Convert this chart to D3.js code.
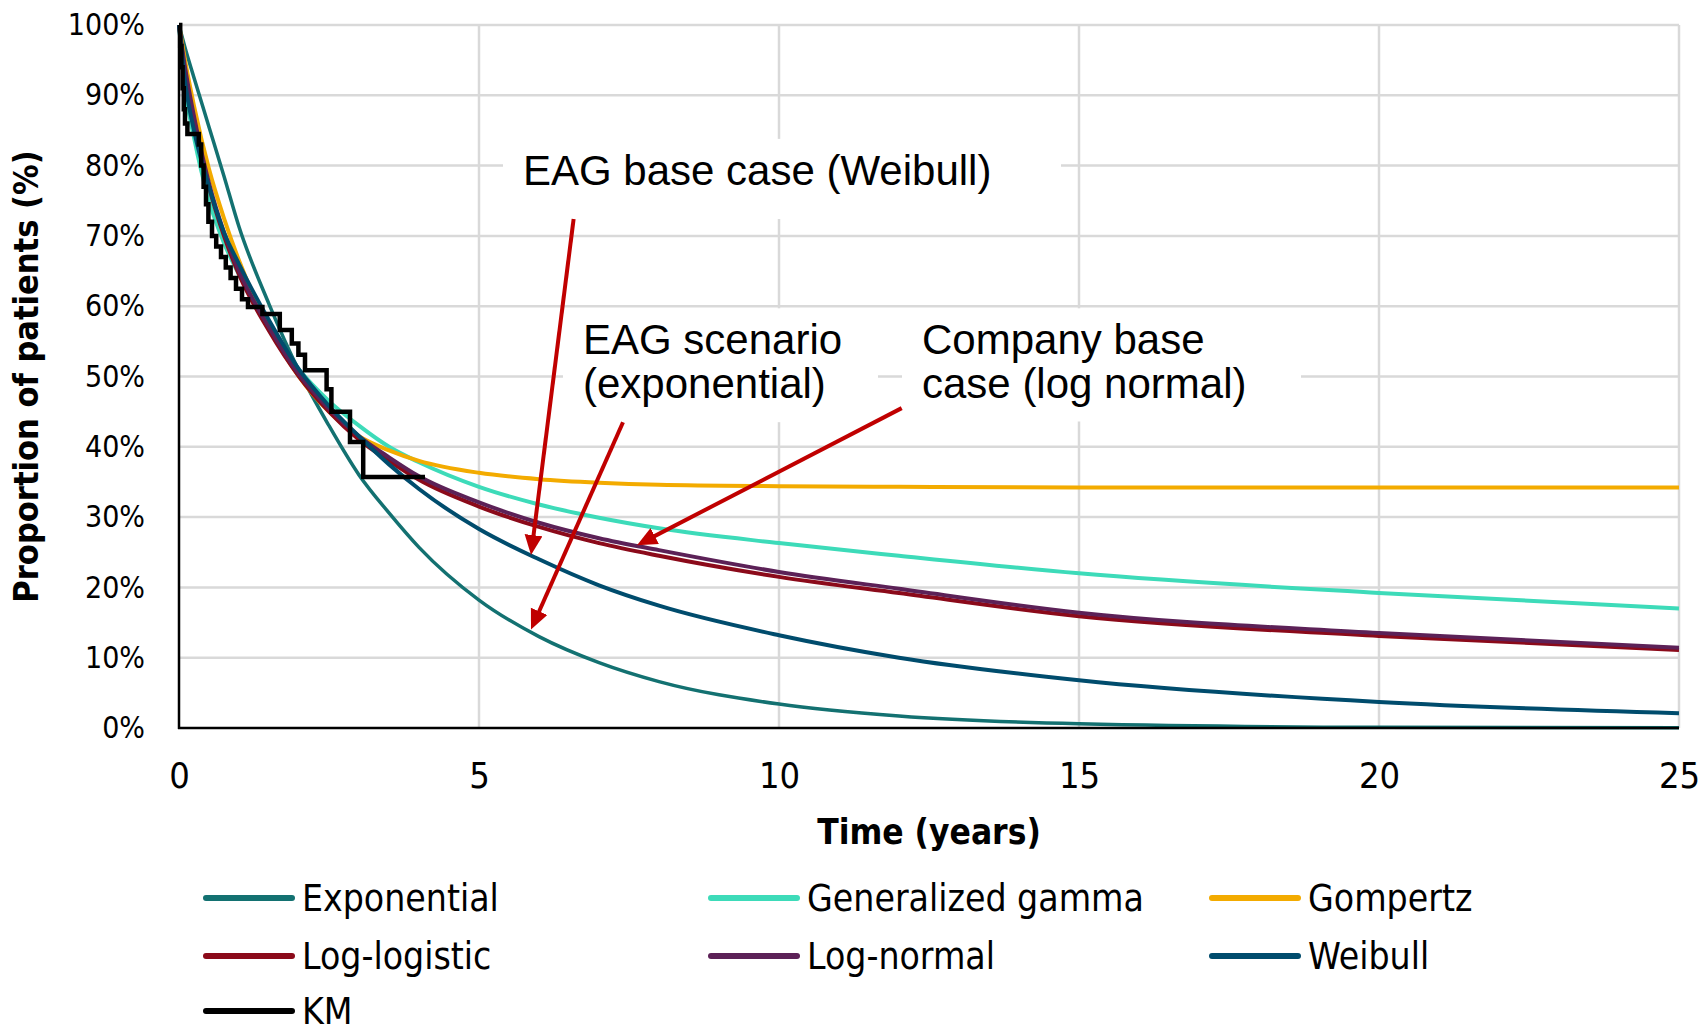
<!DOCTYPE html>
<html>
<head>
<meta charset="utf-8">
<script src="https://d3js.org/d3.v7.min.js"></script>
<style>
  body { margin: 0; background: #fff; }
  svg { display: block; }
  .cond { font-family: 'DejaVu Sans Condensed', 'DejaVu Sans', sans-serif; font-stretch: condensed; }
  .note { font-family: 'Liberation Sans', Arial, sans-serif; }
</style>
</head>
<body>
<svg id="chart" width="1701" height="1024"></svg>
<script>
var years = [0, 0.1, 0.25, 0.5, 0.75, 1, 1.5, 2, 2.5, 3, 3.5, 4, 5, 6, 7, 8, 10, 12, 15, 20, 25];

//Fitted survival curves, % alive at each time point above
var exponential = [100, 96.8, 92.5, 85.5, 78.5, 71.3, 60.3, 50.8, 43, 36, 30.6, 25.7, 18.2, 13.0, 9.3, 6.6, 3.4, 1.7, 0.6, 0.1, 0.02];
var genGamma    = [100, 91, 84, 75, 69, 64.5, 57, 51, 46.5, 43, 40, 37.8, 34.3, 31.8, 29.9, 28.4, 26.3, 24.5, 22, 19.2, 17];
var gompertz    = [100, 95, 88.5, 79.5, 72.5, 66.5, 57, 50, 45, 41.5, 39.5, 38, 36.3, 35.4, 34.9, 34.6, 34.4, 34.3, 34.2, 34.2, 34.2];
var logLogistic = [100, 93, 86.5, 77, 70, 64.5, 56.5, 50, 45, 41, 38, 35.3, 31.5, 28.6, 26.3, 24.5, 21.5, 19.2, 15.9, 13.1, 11.1];
var logNormal   = [100, 94, 87, 77.5, 70.5, 65, 57, 50.3, 45.4, 41.5, 38.5, 35.8, 32.1, 29.2, 27, 25.3, 22.2, 19.8, 16.4, 13.5, 11.4];
var weibull     = [100, 92, 85, 77, 70.5, 66, 58, 51, 45.8, 41.5, 37.5, 34, 28.3, 24, 20.3, 17.4, 13.2, 10, 6.8, 3.7, 2.1];

//Kaplan-Meier steps: [time, survival % from that time on]
var kmSteps = [[0, 100], [0.02, 97], [0.04, 94], [0.06, 91], [0.08, 88], [0.1, 86], [0.14, 84.5],
  [0.33, 83], [0.37, 80], [0.41, 77], [0.45, 74.5], [0.49, 72], [0.55, 70], [0.62, 68.5],
  [0.7, 67], [0.78, 65.5], [0.86, 64], [0.95, 62.5], [1.05, 61], [1.15, 59.9], [1.39, 58.9],
  [1.68, 56.6], [1.88, 54.7], [1.99, 53.1], [2.1, 50.9], [2.46, 48.2], [2.54, 45.0],
  [2.85, 40.7], [3.07, 35.7], [4.1, 35.7]];

var seriesNames = ['Exponential', 'Generalized gamma', 'Gompertz', 'Log-logistic', 'Log-normal', 'Weibull', 'KM'];
var seriesColors = ['#137171', '#3DDBB9', '#F3AB00', '#8B0A1A', '#5C2157', '#004C6D', '#000000'];
var seriesValues = [exponential, genGamma, gompertz, logLogistic, logNormal, weibull];

var xTicks = [0, 5, 10, 15, 20, 25];
var yTicks = [0, 10, 20, 30, 40, 50, 60, 70, 80, 90, 100];

//Annotation boxes in data units: [x0, x1, yTop, yBottom], text lines
var noteBoxes = [
  {x0: 5.4, x1: 14.7, top: 83.8, bottom: 72.4, lines: ['EAG base case (Weibull)']},
  {x0: 6.4, x1: 11.65, top: 59.7, bottom: 43.5, lines: ['EAG scenario', '(exponential)']},
  {x0: 12.05, x1: 18.7, top: 59.7, bottom: 43.6, lines: ['Company base', 'case (log normal)']}
];
//Arrows: from [t, %] to [t, %]
var noteArrows = [
  {from: [6.577, 72.4], to: [5.867, 24.6]},
  {from: [7.4, 43.5], to: [5.867, 14.0]},
  {from: [12.045, 45.5], to: [7.633, 26.0]}
];

function drawChart() {
  var svg = d3.select('#chart');
  var pLeft = 179, pRight = 1679, pTop = 25, pBottom = 728;

  var x = d3.scaleLinear().domain([0, 25]).range([pLeft, pRight]);
  var y = d3.scaleLinear().domain([0, 100]).range([pBottom, pTop]);

  //Gridlines
  svg.append('g').selectAll('line').data(yTicks.filter(function(d) { return d > 0; }))
    .enter().append('line')
    .attr('x1', pLeft).attr('x2', pRight)
    .attr('y1', function(d) { return y(d); }).attr('y2', function(d) { return y(d); })
    .attr('stroke', '#d9d9d9').attr('stroke-width', 2.5);
  svg.append('g').selectAll('line').data(xTicks.filter(function(d) { return d > 0; }))
    .enter().append('line')
    .attr('x1', function(d) { return x(d); }).attr('x2', function(d) { return x(d); })
    .attr('y1', pTop).attr('y2', pBottom)
    .attr('stroke', '#d9d9d9').attr('stroke-width', 2.5);

  //Annotation boxes (white, hide the grid behind)
  var notes = svg.append('g');
  noteBoxes.forEach(function(b) {
    var bx = x(b.x0), by = y(b.top);
    notes.append('rect')
      .attr('x', bx).attr('y', by)
      .attr('width', x(b.x1) - bx).attr('height', y(b.bottom) - by)
      .attr('fill', '#fff');
    b.lines.forEach(function(txt, i) {
      notes.append('text').attr('class', 'note')
        .attr('x', bx + 20).attr('y', by + 46 + i * 44)
        .attr('font-size', 42).attr('fill', '#000')
        .text(txt);
    });
  });

  //Axes
  var xAxis = svg.append('g').attr('class', 'cond')
    .attr('transform', 'translate(0,' + pBottom + ')')
    .call(d3.axisBottom(x).tickValues(xTicks).tickSize(0).tickFormat(d3.format('d')));
  xAxis.select('.domain').remove();
  xAxis.selectAll('text').attr('y', 60).attr('dy', 0)
    .attr('font-size', 36).attr('fill', '#000')
    .style('font-family', "'DejaVu Sans Condensed', 'DejaVu Sans', sans-serif");

  var yAxis = svg.append('g').attr('class', 'cond')
    .attr('transform', 'translate(' + pLeft + ',0)')
    .call(d3.axisLeft(y).tickValues(yTicks).tickSize(0).tickPadding(34).tickFormat(function(d) { return d + '%'; }));
  yAxis.select('.domain').remove();
  yAxis.selectAll('text').attr('font-size', 30).attr('fill', '#000')
    .style('font-family', "'DejaVu Sans Condensed', 'DejaVu Sans', sans-serif");

  //Fitted curves
  var line = d3.line()
    .x(function(d) { return x(d[0]); })
    .y(function(d) { return y(d[1]); })
    .curve(d3.curveMonotoneX);

  seriesValues.forEach(function(vals, i) {
    svg.append('path')
      .datum(years.map(function(t, j) { return [t, vals[j]]; }))
      .attr('d', line)
      .attr('fill', 'none')
      .attr('stroke', seriesColors[i])
      .attr('stroke-width', i === 0 ? 3.5 : 4);
  });

  //KM step curve
  var kmLine = d3.line()
    .x(function(d) { return x(d[0]); })
    .y(function(d) { return y(d[1]); })
    .curve(d3.curveStepAfter);
  svg.append('path').datum(kmSteps)
    .attr('d', kmLine)
    .attr('fill', 'none').attr('stroke', '#000').attr('stroke-width', 4.5);

  //Axis lines on top
  svg.append('line').attr('x1', pLeft).attr('x2', pLeft).attr('y1', pTop).attr('y2', pBottom + 1)
    .attr('stroke', '#000').attr('stroke-width', 2.5);
  svg.append('line').attr('x1', pLeft - 1).attr('x2', pRight).attr('y1', pBottom).attr('y2', pBottom)
    .attr('stroke', '#000').attr('stroke-width', 2.5);

  //Arrows
  svg.append('defs').append('marker')
    .attr('id', 'head').attr('markerUnits', 'userSpaceOnUse')
    .attr('markerWidth', 22).attr('markerHeight', 20)
    .attr('refX', 20).attr('refY', 9).attr('orient', 'auto')
    .append('path').attr('d', 'M0,0 L20,9 L0,18 Z').attr('fill', '#C00000');

  noteArrows.forEach(function(a) {
    var x1 = x(a.from[0]), y1 = y(a.from[1]);
    var x2 = x(a.to[0]), y2 = y(a.to[1]);
    var len = Math.sqrt((x2 - x1) * (x2 - x1) + (y2 - y1) * (y2 - y1));
    var k = (len - 10) / len;
    var g = svg.append('g');
    g.append('line')
      .attr('x1', x1).attr('y1', y1)
      .attr('x2', x1 + (x2 - x1) * k).attr('y2', y1 + (y2 - y1) * k)
      .attr('stroke', '#C00000').attr('stroke-width', 4);
    //Invisible carrier for the head so it sits exactly on the tip
    g.append('line')
      .attr('x1', x1).attr('y1', y1).attr('x2', x2).attr('y2', y2)
      .attr('stroke', 'none').attr('marker-end', 'url(#head)');
  });

  //Axis titles
  svg.append('text').attr('class', 'cond')
    .attr('transform', 'translate(38,' + ((pTop + pBottom) / 2) + ') rotate(-90)')
    .attr('text-anchor', 'middle').attr('font-size', 34).attr('font-weight', 'bold')
    .text('Proportion of patients (%)');
  svg.append('text').attr('class', 'cond')
    .attr('x', (pLeft + pRight) / 2).attr('y', 844)
    .attr('text-anchor', 'middle').attr('font-size', 35).attr('font-weight', 'bold')
    .text('Time (years)');

  //Legend
  var legendCols = [206, 711, 1212];
  var legendRows = [898, 956, 1011];
  var legend = svg.append('g').attr('class', 'cond');
  seriesNames.forEach(function(name, i) {
    var lx = legendCols[i % 3], ly = legendRows[Math.floor(i / 3)];
    legend.append('line')
      .attr('x1', lx).attr('x2', lx + 86).attr('y1', ly).attr('y2', ly)
      .attr('stroke', seriesColors[i]).attr('stroke-width', 6).attr('stroke-linecap', 'round');
    legend.append('text')
      .attr('x', lx + 96).attr('y', ly).attr('dy', '0.36em')
      .attr('font-size', 37).attr('fill', '#000')
      .text(name);
  });
}

drawChart();
</script>
</body>
</html>
